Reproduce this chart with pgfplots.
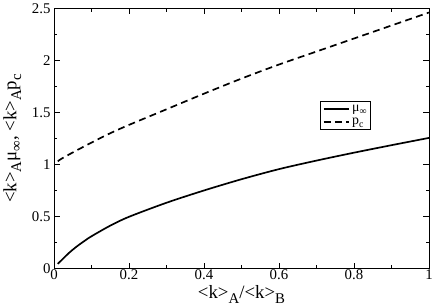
\documentclass[border=0pt]{standalone}
\usepackage{pgfplots}
\pgfplotsset{compat=1.18}
\usepackage{fontspec}
\setmainfont{Liberation Serif}
\newcommand{\lt}{\textless}
\newcommand{\gt}{\textgreater}
\newcommand{\sub}[2][12]{\raisebox{-0.55ex}{\fontsize{#1}{#1}\selectfont #2}}
\begin{document}
\begin{tikzpicture}
\begin{axis}[
  scale only axis,
  width=379pt, height=263pt,
  xmin=0, xmax=1, ymin=0, ymax=2.5,
  xtick={0,0.2,...,1}, ytick={0,0.5,...,2.5},
  minor xtick={0.1,0.3,0.5,0.7,0.9},
  minor ytick={0.25,0.75,1.25,1.75,2.25},
  tick align=inside,
  major tick length=6pt, minor tick length=3.5pt,
  tick style={black, line width=0.6pt},
  axis line style={line width=0.8pt},
  /pgf/number format/assume math mode=true,
  ticklabel style={font=\fontsize{15}{15}\selectfont},
  xticklabel style={yshift=2pt},
  yticklabel style={xshift=0pt},
  xticklabels={0,0.2,0.4,0.6,0.8,1},
  yticklabels={0,0.5,1,1.5,2,2.5},
  xlabel={\fontsize{19}{19}\selectfont \lt k\gt\sub[15]{A}/\lt k\gt\sub[15]{B}},
  ylabel={\fontsize{19}{19}\selectfont \lt k\gt\sub[15]{A}μ\sub[15]{∞}, \lt k\gt\sub[15]{A}p\sub[15]{c}},
  xlabel style={yshift=1pt},
  ylabel style={yshift=4pt},
  legend style={at={(0.845,0.645)}, anchor=north east, font=\fontsize{14}{14}\selectfont, draw=black, line width=0.6pt, inner sep=2pt, row sep=1pt},
  legend image code/.code={\draw[#1] (0pt,0pt) -- (26pt,0pt);},
  legend cell align=left,
  clip=false,
]
\addplot[black, line width=1.7pt, smooth] coordinates {
(0.01,0.045) (0.02,0.08) (0.04,0.15) (0.06,0.21) (0.08,0.262) (0.1,0.31)
(0.15,0.412) (0.2,0.497) (0.3,0.632) (0.4,0.75) (0.5,0.858) (0.6,0.955)
(0.7,1.037) (0.8,1.113) (0.9,1.185) (1.0,1.255)
};
\addlegendentry{μ\sub[10]{∞}}
\addplot[black, line width=1.7pt, dash pattern=on 7pt off 4.5pt, smooth] coordinates {
(0.01,1.03) (0.02,1.055) (0.05,1.115) (0.1,1.21) (0.15,1.30) (0.2,1.38)
(0.3,1.53) (0.4,1.68) (0.5,1.825) (0.6,1.96) (0.7,2.085) (0.8,2.21)
(0.9,2.335) (1.0,2.46)
};
\addlegendentry{p\sub[10]{c}}
\end{axis}
\end{tikzpicture}
\end{document}
